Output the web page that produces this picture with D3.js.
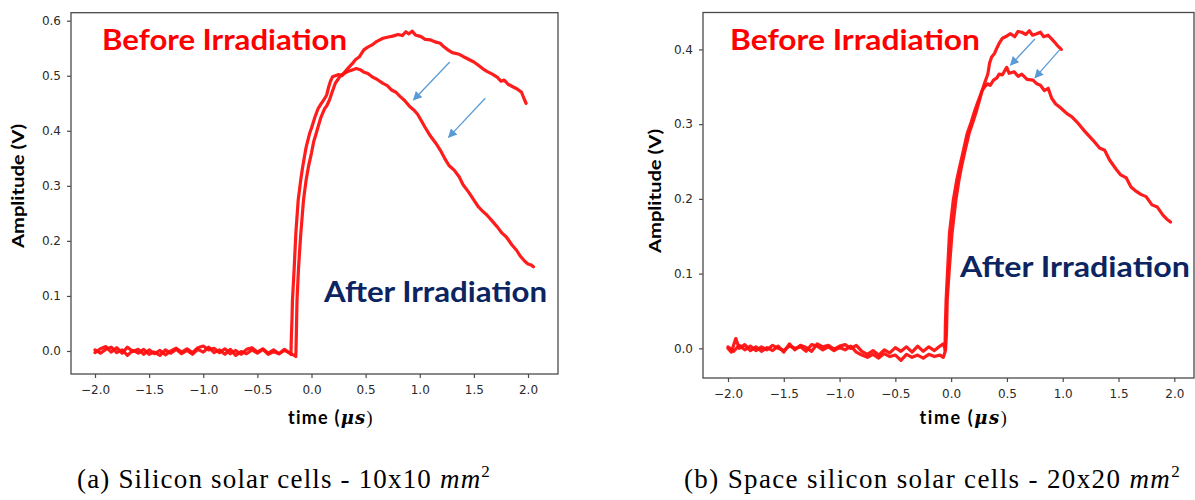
<!DOCTYPE html>
<html><head><meta charset="utf-8">
<script src="https://cdn.jsdelivr.net/npm/d3@7"></script>
<style>body{margin:0;background:#fff} svg{display:block}</style>
</head><body><svg id="c" width="1195" height="500"></svg>
<script>
// ---------------- DATA ----------------
const xTicks = [-2.0, -1.5, -1.0, -0.5, 0.0, 0.5, 1.0, 1.5, 2.0];
const yTicksA = [0.0, 0.1, 0.2, 0.3, 0.4, 0.5, 0.6];
const yTicksB = [0.0, 0.1, 0.2, 0.3, 0.4];
const yLabel = "Amplitude (V)";
const beforeLabel = "Before Irradiation";
const afterLabel = "After Irradiation";
const captionA = ["(a) Silicon solar cells - 10x10 ", "mm", "2"];
const captionB = ["(b) Space silicon solar cells - 20x20 ", "mm", "2"];

// (a) 10x10 mm2 cell, [time µs, amplitude V]
const aBefore = [[-2.0,0.002],[-1.95,-0.004],[-1.9,0.003],[-1.85,0.007],[-1.8,-0.003],[-1.75,0.002],[-1.7,-0.008],[-1.65,0.001],[-1.6,-0.004],[-1.55,0.003],[-1.5,-0.006],[-1.45,-0.002],[-1.4,-0.008],[-1.35,0.002],[-1.3,-0.004],[-1.25,0.003],[-1.2,-0.005],[-1.15,0.001],[-1.1,-0.006],[-1.05,0.003],[-1.0,-0.002],[-0.95,0.007],[-0.9,-0.003],[-0.85,0.002],[-0.8,-0.006],[-0.75,0.003],[-0.7,-0.008],[-0.65,-0.001],[-0.6,-0.005],[-0.55,0.002],[-0.5,-0.004],[-0.45,0.003],[-0.4,-0.006],[-0.35,-0.001],[-0.3,-0.005],[-0.25,0.001],[-0.2,-0.004],[-0.16,-0.008],[-0.145,-0.01],
 [-0.14,0.03],[-0.134,0.092],[-0.12,0.15],[-0.099,0.213],[-0.074,0.274],[-0.05,0.31],[-0.028,0.335],[0.0,0.36],[0.02,0.38],[0.043,0.395],[0.065,0.41],[0.088,0.425],[0.12,0.44],[0.14,0.445],[0.166,0.456],[0.19,0.47],[0.219,0.486],[0.25,0.495],[0.272,0.501],[0.3,0.505],[0.33,0.512],[0.377,0.522],[0.41,0.53],[0.44,0.534],[0.483,0.547],[0.52,0.552],[0.56,0.556],[0.6,0.562],[0.66,0.568],[0.7,0.57],[0.75,0.572],[0.8,0.575],[0.84,0.573],[0.871,0.58],[0.9,0.576],[0.93,0.581],[0.96,0.574],[1.012,0.571],[1.05,0.566],[1.1,0.565],[1.15,0.561],[1.189,0.559],[1.22,0.553],[1.26,0.547],[1.3,0.542],[1.365,0.539],[1.4,0.535],[1.45,0.53],[1.5,0.525],[1.541,0.519],[1.58,0.513],[1.62,0.508],[1.67,0.503],[1.718,0.497],[1.75,0.49],[1.78,0.492],[1.82,0.484],[1.859,0.48],[1.9,0.476],[1.94,0.47],[1.96,0.46],[1.982,0.45]];
const aAfter = [[-2.0,-0.003],[-1.95,0.004],[-1.9,0.008],[-1.85,-0.002],[-1.8,0.006],[-1.75,-0.004],[-1.7,0.007],[-1.65,-0.001],[-1.6,0.003],[-1.55,-0.006],[-1.5,0.002],[-1.45,-0.005],[-1.4,0.001],[-1.35,-0.007],[-1.3,0.0],[-1.25,0.005],[-1.2,-0.002],[-1.15,0.004],[-1.1,-0.003],[-1.05,0.006],[-1.0,0.009],[-0.95,0.002],[-0.9,0.005],[-0.85,-0.003],[-0.8,0.004],[-0.75,-0.005],[-0.7,0.001],[-0.65,-0.006],[-0.6,0.003],[-0.55,0.006],[-0.5,-0.002],[-0.45,0.004],[-0.4,-0.004],[-0.35,0.002],[-0.3,-0.005],[-0.25,0.003],[-0.2,-0.004],[-0.19,-0.006],
 [-0.187,0.02],[-0.18,0.06],[-0.176,0.092],[-0.16,0.15],[-0.145,0.213],[-0.123,0.274],[-0.1,0.31],[-0.081,0.335],[-0.05,0.37],[-0.018,0.395],[0.0,0.405],[0.032,0.425],[0.06,0.44],[0.085,0.448],[0.113,0.456],[0.14,0.465],[0.159,0.48],[0.175,0.49],[0.194,0.498],[0.22,0.5],[0.25,0.502],[0.28,0.5],[0.307,0.505],[0.34,0.508],[0.37,0.51],[0.413,0.513],[0.45,0.511],[0.48,0.507],[0.52,0.504],[0.56,0.498],[0.6,0.494],[0.66,0.486],[0.7,0.482],[0.74,0.474],[0.78,0.47],[0.82,0.462],[0.86,0.455],[0.907,0.444],[0.95,0.437],[0.98,0.43],[1.012,0.419],[1.05,0.406],[1.1,0.39],[1.15,0.377],[1.189,0.365],[1.23,0.35],[1.27,0.337],[1.32,0.328],[1.365,0.316],[1.4,0.302],[1.45,0.289],[1.5,0.274],[1.541,0.262],[1.58,0.254],[1.62,0.247],[1.67,0.236],[1.718,0.225],[1.76,0.214],[1.8,0.207],[1.85,0.193],[1.894,0.183],[1.93,0.172],[1.97,0.163],[2.0,0.158],[2.03,0.156],[2.05,0.153]];

// (b) 20x20 mm2 space cell
const bBefore = [[-2.0,0.0],[-1.97,-0.005],[-1.93,0.013],[-1.9,0.0],[-1.85,0.005],[-1.8,-0.003],[-1.75,0.002],[-1.7,-0.004],[-1.65,0.001],[-1.6,-0.003],[-1.55,0.003],[-1.5,-0.005],[-1.45,0.006],[-1.4,-0.002],[-1.35,0.004],[-1.3,0.001],[-1.25,-0.004],[-1.2,0.006],[-1.15,0.002],[-1.1,0.004],[-1.05,-0.001],[-1.0,0.003],[-0.95,0.005],[-0.9,0.0],[-0.85,0.004],[-0.8,-0.004],[-0.75,-0.008],[-0.7,-0.003],[-0.65,-0.009],[-0.6,-0.002],[-0.55,-0.006],[-0.5,0.001],[-0.45,-0.004],[-0.4,0.002],[-0.35,-0.005],[-0.3,0.003],[-0.25,-0.004],[-0.2,0.002],[-0.15,-0.003],[-0.1,0.003],[-0.07,0.006],[-0.05,-0.002],
 [-0.042,0.02],[-0.035,0.065],[-0.015,0.109],[0.008,0.154],[0.042,0.198],[0.07,0.225],[0.093,0.243],[0.13,0.268],[0.16,0.287],[0.2,0.305],[0.228,0.318],[0.25,0.33],[0.278,0.345],[0.3,0.355],[0.329,0.367],[0.345,0.382],[0.363,0.39],[0.39,0.395],[0.41,0.402],[0.43,0.408],[0.46,0.415],[0.5,0.418],[0.532,0.421],[0.57,0.417],[0.6,0.424],[0.633,0.423],[0.67,0.42],[0.7,0.425],[0.73,0.419],[0.768,0.421],[0.8,0.423],[0.83,0.417],[0.869,0.419],[0.9,0.414],[0.937,0.408],[0.96,0.404],[0.987,0.4]];
const bAfter = [[-2.0,0.002],[-1.95,-0.004],[-1.9,0.004],[-1.85,-0.002],[-1.8,0.003],[-1.75,-0.003],[-1.7,0.002],[-1.65,-0.002],[-1.6,0.004],[-1.55,0.0],[-1.5,-0.003],[-1.45,0.003],[-1.4,0.0],[-1.35,0.002],[-1.3,-0.004],[-1.25,0.005],[-1.2,0.003],[-1.15,-0.002],[-1.1,0.002],[-1.05,-0.003],[-1.0,0.001],[-0.95,-0.002],[-0.9,0.003],[-0.85,-0.005],[-0.8,-0.009],[-0.75,-0.012],[-0.7,-0.008],[-0.65,-0.013],[-0.6,-0.007],[-0.55,-0.011],[-0.5,-0.009],[-0.45,-0.016],[-0.4,-0.008],[-0.35,-0.012],[-0.3,-0.009],[-0.25,-0.013],[-0.2,-0.008],[-0.15,-0.011],[-0.1,-0.009],[-0.07,-0.012],[-0.055,-0.005],
 [-0.052,0.03],[-0.045,0.065],[-0.03,0.11],[-0.015,0.154],[0.019,0.198],[0.05,0.225],[0.076,0.243],[0.11,0.265],[0.143,0.287],[0.18,0.303],[0.211,0.318],[0.24,0.33],[0.278,0.345],[0.3,0.35],[0.329,0.354],[0.35,0.352],[0.38,0.359],[0.41,0.362],[0.43,0.367],[0.46,0.366],[0.498,0.376],[0.52,0.368],[0.565,0.37],[0.6,0.364],[0.633,0.367],[0.68,0.36],[0.734,0.359],[0.768,0.354],[0.8,0.352],[0.835,0.345],[0.87,0.348],[0.9,0.335],[0.937,0.327],[0.98,0.322],[1.038,0.314],[1.08,0.31],[1.139,0.301],[1.2,0.29],[1.274,0.278],[1.33,0.268],[1.376,0.265],[1.42,0.252],[1.477,0.24],[1.52,0.232],[1.57,0.228],[1.612,0.216],[1.66,0.21],[1.7,0.206],[1.747,0.203],[1.8,0.192],[1.848,0.189],[1.9,0.178],[1.94,0.172],[1.966,0.169]];

// arrows: [t0, v0, t1, v1] (from before-curve toward after-curve)
const aArrows = [[1.277,0.525,0.942,0.456],[1.605,0.459,1.266,0.388]];
const bArrows = [[0.751,0.414,0.532,0.379],[0.970,0.399,0.751,0.362]];

// ---------------- DRAW ----------------
const svg = d3.select("#c");
const RED = "#ff1010", NAVY = "#0c2461", ARROW = "#5b9bd5", SPINE = "#4a4a4a";

const defs = svg.append("defs");
defs.append("marker").attr("id","ah").attr("viewBox","0 0 10 10")
  .attr("refX",9).attr("refY",5).attr("markerWidth",11).attr("markerHeight",9)
  .attr("markerUnits","userSpaceOnUse").attr("orient","auto")
  .append("path").attr("d","M0,0 L10,5 L0,10 Z").attr("fill",ARROW);

function panel(cfg) {
  const x = d3.scaleLinear().domain(cfg.xDom).range([cfg.left, cfg.right]);
  const y = d3.scaleLinear().domain(cfg.yDom).range([cfg.bottom, cfg.top]);
  const g = svg.append("g");
  const fmt = d3.format(".1f");

  const line = d3.line().x(d => x(d[0])).y(d => y(d[1]));
  cfg.series.forEach(s => {
    g.append("path").attr("d", line(s)).attr("fill","none")
      .attr("stroke", RED).attr("stroke-width", 3.2)
      .attr("stroke-linejoin","round").attr("stroke-linecap","round").attr("opacity",0.95);
  });

  g.append("rect").attr("x", cfg.left).attr("y", cfg.top)
    .attr("width", cfg.right - cfg.left).attr("height", cfg.bottom - cfg.top)
    .attr("fill","none").attr("stroke", SPINE).attr("stroke-width", 1.3);

  const ax = g.append("g").attr("transform", `translate(0,${cfg.bottom})`)
    .call(d3.axisBottom(x).tickValues(xTicks).tickFormat(fmt).tickSize(4).tickSizeOuter(0).tickPadding(7));
  const ay = g.append("g").attr("transform", `translate(${cfg.left},0)`)
    .call(d3.axisLeft(y).tickValues(cfg.yTicks).tickFormat(fmt).tickSize(4).tickSizeOuter(0).tickPadding(6));
  [ax, ay].forEach(a => {
    a.select(".domain").remove();
    a.selectAll("line").attr("stroke", SPINE).attr("stroke-width", 1.2);
    a.selectAll("text").attr("fill","#2a2a2a").style("font-family","DejaVu Sans").style("font-size","12px");
  });

  cfg.arrows.forEach(a => {
    g.append("line").attr("x1", x(a[0])).attr("y1", y(a[1])).attr("x2", x(a[2])).attr("y2", y(a[3]))
      .attr("stroke", ARROW).attr("stroke-width", 1.3).attr("marker-end","url(#ah)");
  });

  g.append("text").text(beforeLabel).attr("x", cfg.bx).attr("y", cfg.by)
    .attr("textLength", cfg.bw).attr("lengthAdjust","spacingAndGlyphs")
    .style("font-family","Lato, 'Open Sans', sans-serif").style("font-weight",700)
    .style("font-size","29px").attr("fill", "#ff0000");
  g.append("text").text(afterLabel).attr("x", cfg.fx).attr("y", cfg.fy)
    .attr("textLength", cfg.fw).attr("lengthAdjust","spacingAndGlyphs")
    .style("font-family","Lato, 'Open Sans', sans-serif").style("font-weight",700)
    .style("font-size","28px").attr("fill", NAVY);

  g.append("text").text(yLabel)
    .attr("transform", `translate(${cfg.ylx},${cfg.yly}) rotate(-90)`)
    .attr("text-anchor","middle").attr("dy","0.35em")
    .attr("textLength", 124).attr("lengthAdjust","spacingAndGlyphs")
    .style("font-family","Lato, sans-serif").style("font-weight",700).style("font-size","17px").attr("fill","#000");

  // x label: time (µs)
  const t = g.append("text").attr("x", cfg.xlx).attr("y", 424)
    .style("font-size","18px").attr("fill","#000");
  t.append("tspan").text("time (").style("font-family","Lato, sans-serif").style("font-weight",700);
  t.append("tspan").text("μs").style("font-family","'DejaVu Serif', serif").style("font-style","italic").style("font-weight",700);
  t.append("tspan").text(")").style("font-family","'Liberation Serif', serif");
  const tw = t.node().getComputedTextLength();
  t.style("letter-spacing", ((cfg.xlw - tw) / 9) + "px").attr("x", cfg.xlx - cfg.xlw / 2);

  // caption
  const c = g.append("text").attr("x", cfg.capx).attr("y", 488)
    .style("font-family","'Liberation Serif', 'DejaVu Serif', serif").style("font-size","27px").attr("fill","#000");
  c.append("tspan").text(cfg.caption[0]);
  c.append("tspan").text(cfg.caption[1]).style("font-style","italic");
  c.append("tspan").text(cfg.caption[2]).attr("dy","-11").style("font-size","17px");
  const cw = c.node().getComputedTextLength();
  const nch = (cfg.caption[0] + cfg.caption[1] + cfg.caption[2]).length;
  c.style("letter-spacing", ((cfg.capw - cw) / nch) + "px");
}

panel({
  xDom: [-2.2217, 2.277], yDom: [-0.0418, 0.6145],
  left: 71, right: 558, top: 12.7, bottom: 374,
  yTicks: yTicksA, series: [aBefore, aAfter], arrows: aArrows,
  bx: 102, by: 50, bw: 245, fx: 324, fy: 302, fw: 223,
  ylx: 18, yly: 186, xlx: 331, xlw: 86, capx: 77, capw: 414, caption: captionA
});
panel({
  xDom: [-2.224, 2.1766], yDom: [-0.0397, 0.4494],
  left: 703, right: 1194, top: 12.5, bottom: 378,
  yTicks: yTicksB, series: [bBefore, bAfter], arrows: bArrows,
  bx: 730, by: 50, bw: 250, fx: 960, fy: 277, fw: 230,
  ylx: 655, yly: 191, xlx: 964, xlw: 89, capx: 684, capw: 497, caption: captionB
});
</script></body></html>
